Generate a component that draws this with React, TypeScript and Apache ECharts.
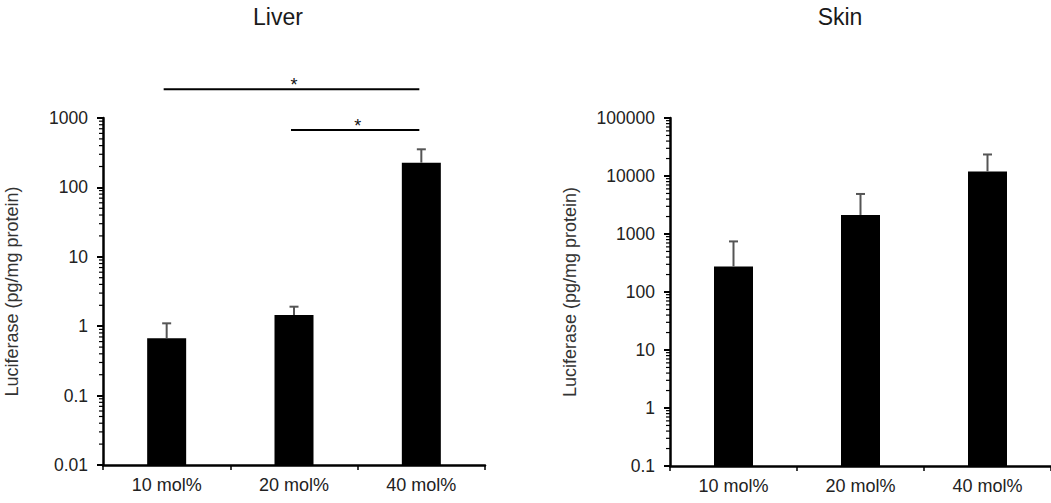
import React, { useEffect, useRef } from "react";
import * as echarts from "echarts";

const categories = ["10 mol%", "20 mol%", "40 mol%"];
const liverMean = [0.67, 1.45, 227];
const liverErr = [0.43, 0.46, 127];
const skinMean = [276, 2130, 12000];
const skinErr = [469, 2770, 11500];
const liverTicks = [0.01, 0.1, 1, 10, 100, 1000];
const skinTicks = [0.1, 1, 10, 100, 1000, 10000, 100000];
const minorMultipliers = [2, 3, 4, 5, 6, 7, 8, 9];
const liverSig = [
  { from: 0, to: 2, value: 2590, label: "*" },
  { from: 1, to: 2, value: 670, label: "*" },
];
const panelTitles = ["Liver", "Skin"];
const yName = "Luciferase (pg/mg protein)";

const FONT = "'Liberation Sans', Arial, sans-serif";

function minorValues(ticks: number[]): number[] {
  const out: number[] = [];
  for (let i = 0; i < ticks.length - 1; i++) {
    for (const m of minorMultipliers) out.push(Number((ticks[i] * m).toPrecision(6)));
  }
  return out;
}

function fmt(v: number): string {
  return String(Number(v.toPrecision(6)));
}

const errorRender = (params: any, api: any) => {
  const x = api.value(0);
  const m = api.value(1);
  const t = api.value(2);
  const p0 = api.coord([x, m]);
  const p1 = api.coord([x, t]);
  const st = { stroke: "#555", lineWidth: 2 };
  return {
    type: "group",
    children: [
      { type: "line", shape: { x1: p0[0], y1: p0[1], x2: p1[0], y2: p1[1] }, style: st },
      { type: "line", shape: { x1: p1[0] - 4.5, y1: p1[1], x2: p1[0] + 4.5, y2: p1[1] }, style: st },
    ],
  };
};

const minorTickRender = (params: any, api: any) => {
  const p = api.coord([0, api.value(1)]);
  const left = (params.coordSys && params.coordSys.x) || 0;
  return {
    type: "line",
    shape: { x1: left - 4, y1: p[1], x2: left, y2: p[1] },
    style: { stroke: "#000", lineWidth: 1.2 },
  };
};

const sigRender = (params: any, api: any) => {
  const a = api.coord([api.value(0), api.value(1)]);
  const b = api.coord([api.value(2), api.value(1)]);
  return {
    type: "group",
    children: [
      { type: "line", shape: { x1: a[0] - 3, y1: a[1], x2: b[0] - 2, y2: b[1] }, style: { stroke: "#000", lineWidth: 2 } },
      {
        type: "text",
        x: (a[0] + b[0]) / 2,
        y: a[1] - 4,
        style: { text: liverSig[params.dataIndex].label, fontSize: 18, fontFamily: FONT, align: "center", verticalAlign: "middle", fill: "#111" },
      },
    ],
  };
};

function xAxisFor(gi: number) {
  return {
    type: "category",
    gridIndex: gi,
    data: categories,
    boundaryGap: true,
    axisLine: { show: true, onZero: false, lineStyle: { color: "#000", width: 2.5 } },
    axisTick: { show: true, length: 5, lineStyle: { color: "#000", width: 1.5 } },
    axisLabel: { fontSize: 18, color: "#222", margin: 11, fontFamily: FONT },
    splitLine: { show: false },
  };
}

function yAxisFor(gi: number, ticks: number[], nameGap: number) {
  const min = ticks[0];
  const max = ticks[ticks.length - 1];
  return {
    type: "log",
    logBase: 10,
    gridIndex: gi,
    min,
    max,
    startValue: min,
    position: "left",
    name: yName,
    nameLocation: "middle",
    nameGap,
    nameTextStyle: { fontSize: 18, color: "#333", fontFamily: FONT },
    axisLine: { show: true, onZero: false, lineStyle: { color: "#000", width: 2.5 } },
    axisTick: { show: true, length: 6, lineStyle: { color: "#000", width: 2 } },
    axisLabel: { fontSize: 17.5, color: "#222", margin: 15, fontFamily: FONT, formatter: (v: number) => fmt(v) },
    splitLine: { show: false },
  };
}

function minorSeries(gi: number, ticks: number[]) {
  return {
    type: "custom",
    xAxisIndex: gi,
    yAxisIndex: gi,
    clip: false,
    silent: true,
    z: 4,
    encode: { x: 0, y: 1 },
    data: minorValues(ticks).map((v) => [0, v]),
    renderItem: minorTickRender,
  };
}

export default function App() {
  const ref = useRef<HTMLDivElement>(null);
  useEffect(() => {
    document.body.style.margin = "0";
    if (!ref.current) return;
    const chart = echarts.init(ref.current, null, { renderer: "svg" });
    chart.setOption({
      animation: false,
      backgroundColor: "#fff",
      textStyle: { fontFamily: FONT },
      title: [
        { text: panelTitles[0], left: 278, top: 5, padding: 0, textAlign: "center", textStyle: { fontSize: 23, fontWeight: "normal", color: "#1a1a1a", fontFamily: FONT } },
        { text: panelTitles[1], left: 840, top: 5, padding: 0, textAlign: "center", textStyle: { fontSize: 23, fontWeight: "normal", color: "#1a1a1a", fontFamily: FONT } },
      ],
      grid: [
        { left: 103, top: 118, width: 382, height: 347 },
        { left: 670, top: 118, width: 385, height: 348 },
      ],
      xAxis: [xAxisFor(0), xAxisFor(1)],
      yAxis: [yAxisFor(0, liverTicks, 82), yAxisFor(1, skinTicks, 91)],
      series: [
        { type: "bar", xAxisIndex: 0, yAxisIndex: 0, data: liverMean, barWidth: 39, itemStyle: { color: "#000" } },
        {
          type: "custom", xAxisIndex: 0, yAxisIndex: 0, clip: false, z: 3,
          encode: { x: 0, y: [1, 2] },
          data: liverMean.map((m, i) => [i, m, m + liverErr[i]]),
          renderItem: errorRender,
        },
        {
          type: "custom", xAxisIndex: 0, yAxisIndex: 0, clip: false, z: 3,
          encode: { x: 0, y: 1 },
          data: liverSig.map((s) => [s.from, s.value, s.to]),
          renderItem: sigRender,
        },
        minorSeries(0, liverTicks),
        { type: "bar", xAxisIndex: 1, yAxisIndex: 1, data: skinMean, barWidth: 39, itemStyle: { color: "#000" } },
        {
          type: "custom", xAxisIndex: 1, yAxisIndex: 1, clip: false, z: 3,
          encode: { x: 0, y: [1, 2] },
          data: skinMean.map((m, i) => [i, m, m + skinErr[i]]),
          renderItem: errorRender,
        },
        minorSeries(1, skinTicks),
      ],
    });
    return () => chart.dispose();
  }, []);
  return <div ref={ref} style={{ position: "absolute", left: 0, top: 0, width: 1051, height: 503 }} />;
}
